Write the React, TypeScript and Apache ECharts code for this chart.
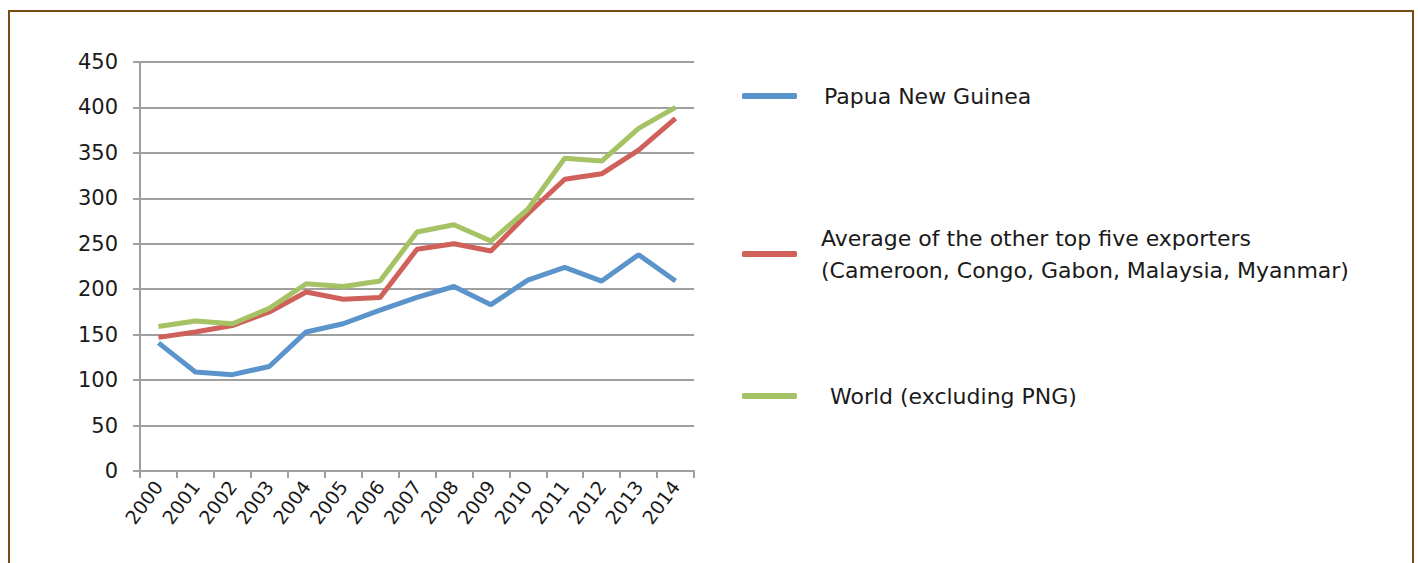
import React, { useEffect, useRef } from "react";
import * as echarts from "echarts";

const years = ["2000","2001","2002","2003","2004","2005","2006","2007","2008","2009","2010","2011","2012","2013","2014"];
const png = [141, 109, 106, 115, 153, 162, 177, 191, 203, 183, 210, 224, 209, 238, 209];
const avgTop5 = [147, 153, 160, 175, 197, 189, 191, 244, 250, 242, 283, 321, 327, 353, 388];
const world = [159, 165, 162, 179, 206, 203, 209, 263, 271, 253, 288, 344, 341, 377, 400];

const nameA = "Papua New Guinea";
const nameB = "Average of the other top five exporters\n(Cameroon, Congo, Gabon, Malaysia, Myanmar)";
const nameC = "World (excluding PNG)";

const FONT = "'DejaVu Sans', 'Open Sans', sans-serif";

export default function App() {
  const ref = useRef<HTMLDivElement>(null);
  useEffect(() => {
    if (!ref.current) return;
    const chart = echarts.init(ref.current, null, { renderer: "svg" });
    const legendText = { fontSize: 22, lineHeight: 32, color: "#1a1a1a", fontFamily: FONT };
    const mkLegend = (name: string, top: number, pad: number) => ({
      data: [name],
      left: 737,
      top,
      orient: "vertical",
      icon: "roundRect",
      itemWidth: 55,
      itemHeight: 6,
      selectedMode: false,
      textStyle: { ...legendText, padding: [0, 0, 0, pad] },
    });
    chart.setOption({
      animation: false,
      backgroundColor: "#ffffff",
      graphic: [
        {
          type: "rect",
          shape: { x: 9, y: 11, width: 1404, height: 620 },
          style: { fill: "none", stroke: "#7a4a14", lineWidth: 2 },
          silent: true,
        },
      ],
      grid: { left: 140, right: 724, top: 62, bottom: 92 },
      legend: [
        mkLegend(nameA, 75, 22),
        mkLegend(nameB, 217, 19),
        mkLegend(nameC, 375, 28),
      ],
      xAxis: {
        type: "category",
        data: years,
        boundaryGap: true,
        axisLine: { lineStyle: { color: "#a0a0a0", width: 2 } },
        axisTick: { show: true, length: 7, lineStyle: { color: "#a0a0a0", width: 2 } },
        axisLabel: {
          rotate: 53,
          margin: 12,
          fontSize: 19,
          color: "#1a1a1a",
          fontFamily: FONT,
        },
      },
      yAxis: {
        type: "value",
        min: 0,
        max: 450,
        interval: 50,
        axisLine: { show: true, lineStyle: { color: "#a0a0a0", width: 2 } },
        axisTick: { show: true, length: 7, lineStyle: { color: "#a0a0a0", width: 2 } },
        splitLine: { lineStyle: { color: "#a0a0a0", width: 2 } },
        axisLabel: { fontSize: 21, color: "#1a1a1a", fontFamily: FONT, margin: 22 },
      },
      series: [
        {
          name: nameA,
          type: "line",
          data: png,
          symbol: "none",
          lineStyle: { color: "#5B94CB", width: 5 },
          itemStyle: { color: "#5B94CB" },
        },
        {
          name: nameB,
          type: "line",
          data: avgTop5,
          symbol: "none",
          lineStyle: { color: "#CF615A", width: 5 },
          itemStyle: { color: "#CF615A" },
        },
        {
          name: nameC,
          type: "line",
          data: world,
          symbol: "none",
          lineStyle: { color: "#A5C365", width: 5 },
          itemStyle: { color: "#A5C365" },
        },
      ],
    });
    return () => chart.dispose();
  }, []);
  return (
    <div style={{ position: "fixed", left: 0, top: 0, width: 1418, height: 563, background: "#fff" }}>
      <div ref={ref} style={{ width: 1418, height: 563 }} />
    </div>
  );
}
